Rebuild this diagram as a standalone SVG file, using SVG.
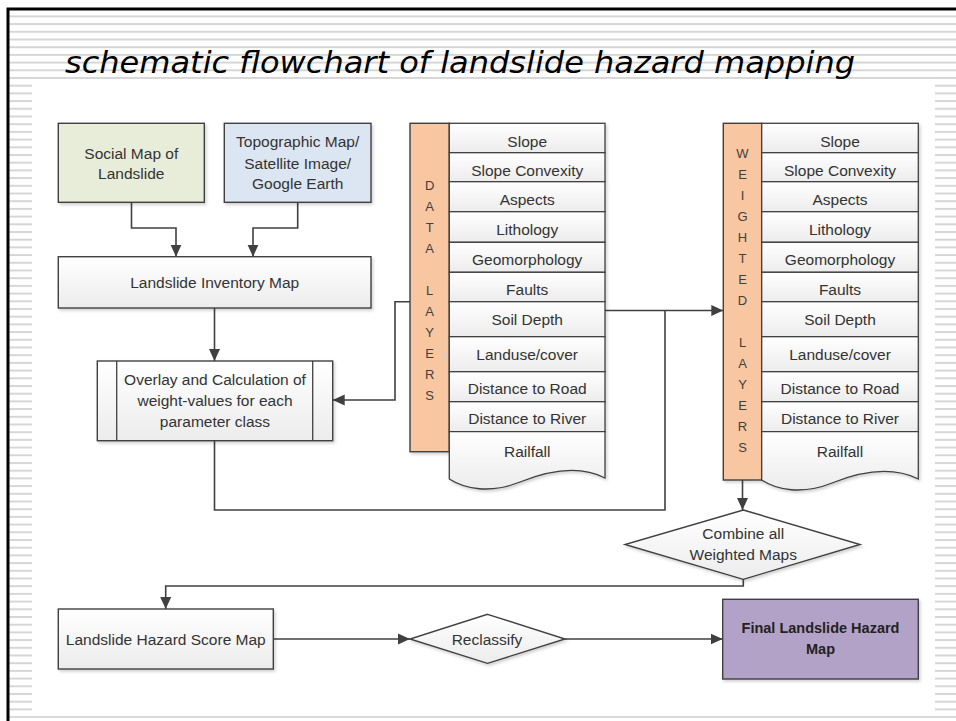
<svg xmlns="http://www.w3.org/2000/svg" width="956" height="721" viewBox="0 0 956 721">
<defs>
<pattern id="stripes" patternUnits="userSpaceOnUse" width="10" height="7.7">
<rect x="0" y="0" width="10" height="2" fill="#D6D6D6"/>
</pattern>
<linearGradient id="lg" x1="0" y1="0" x2="0" y2="1">
<stop offset="0" stop-color="#FFFFFF"/>
<stop offset="1" stop-color="#ECECEC"/>
</linearGradient>
<filter id="sh" x="-10%" y="-10%" width="130%" height="140%">
<feDropShadow dx="1.5" dy="2" stdDeviation="1.5" flood-color="#000" flood-opacity="0.18"/>
</filter>
<marker id="ah" markerUnits="userSpaceOnUse" markerWidth="13" markerHeight="12" refX="12" refY="6" orient="auto">
<path d="M0,0.5 L12,6 L0,11.5 Z" fill="#404040"/>
</marker>
</defs>
<style>
.box{stroke:#404040;stroke-width:1.4;filter:url(#sh)}
.lt{fill:url(#lg)}
.row{fill:url(#lg);stroke:#404040;stroke-width:1.3}
.bar{fill:#F8C6A0;stroke:#404040;stroke-width:1.4;filter:url(#sh)}
.t{font-family:"Liberation Sans",Arial,sans-serif;font-size:15.5px;fill:#333;text-anchor:middle}
.v{font-family:"Liberation Sans",Arial,sans-serif;font-size:13px;fill:#404040;text-anchor:middle}
.b{font-weight:bold;font-size:14.5px;fill:#222}
.c{fill:none;stroke:#404040;stroke-width:1.6}
.ca{fill:none;stroke:#404040;stroke-width:1.6;marker-end:url(#ah)}
</style>

<rect x="0" y="0" width="956" height="721" fill="#FFFFFF"/>
<rect x="9" y="11" width="947" height="700" fill="url(#stripes)"/>
<rect x="32" y="79" width="903" height="632" fill="#FFFFFF"/>
<line x1="9" y1="717" x2="956" y2="717" stroke="#CCCCCC" stroke-width="1.5"/>
<path d="M8,721 V9 H956" fill="none" stroke="#000" stroke-width="3"/>

<text x="65" y="73" font-family="DejaVu Sans,Verdana,sans-serif" font-style="italic" font-size="31" fill="#000" textLength="790" lengthAdjust="spacingAndGlyphs">schematic flowchart of landslide hazard mapping</text>

<g id="connectors">
<path class="ca" d="M131.5,202.3 V228 H176 V256.7"/>
<path class="ca" d="M297.7,202.3 V228 H253 V256.7"/>
<path class="ca" d="M214.5,308 V361"/>
<path class="ca" d="M410,301.7 H395 V400 H332.7"/>
<path class="c" d="M214.5,440.7 V510 H665 V310.5"/>
<path class="ca" d="M605,310.5 H723.3"/>
<path class="ca" d="M742.5,480 V510"/>
<path class="ca" d="M743.3,579.3 V586 H165.7 V609"/>
<path class="ca" d="M273.3,639 H410"/>
<path class="ca" d="M565,639 H722.7"/>
</g>

<g id="social-map">
<rect class="box" x="58.3" y="123.3" width="146" height="79" fill="#E8EDDA"/>
<text class="t" x="131.3" y="158.5">Social Map of</text>
<text class="t" x="131.3" y="178.5">Landslide</text>
</g>

<g id="topographic-map">
<rect class="box" x="224.3" y="123.3" width="146.7" height="79" fill="#DCE6F2"/>
<text class="t" x="297.7" y="147">Topographic Map/</text>
<text class="t" x="297.7" y="168.5">Satellite Image/</text>
<text class="t" x="297.7" y="189">Google Earth</text>
</g>

<g id="inventory-map">
<rect class="box lt" x="58.3" y="256.7" width="312.7" height="51.3"/>
<text class="t" x="214.7" y="288">Landslide Inventory Map</text>
</g>

<g id="overlay">
<rect class="box lt" x="97.3" y="361" width="235.4" height="79.7"/>
<line x1="116.7" y1="361" x2="116.7" y2="440.7" stroke="#404040" stroke-width="1.3"/>
<line x1="312.7" y1="361" x2="312.7" y2="440.7" stroke="#404040" stroke-width="1.3"/>
<text class="t" x="215" y="385">Overlay and Calculation of</text>
<text class="t" x="215" y="405.5">weight-values for each</text>
<text class="t" x="215" y="427">parameter class</text>
</g>

<g id="data-layers">
<rect class="bar" x="410" y="123.3" width="39.3" height="328.4"/>
<text class="v" x="429.7" y="190">D</text>
<text class="v" x="429.7" y="211">A</text>
<text class="v" x="429.7" y="232">T</text>
<text class="v" x="429.7" y="253">A</text>
<text class="v" x="429.7" y="295">L</text>
<text class="v" x="429.7" y="316">A</text>
<text class="v" x="429.7" y="337">Y</text>
<text class="v" x="429.7" y="358">E</text>
<text class="v" x="429.7" y="379">R</text>
<text class="v" x="429.7" y="400">S</text>
<g filter="url(#sh)">
<rect class="row" x="449.3" y="123.3" width="155.7" height="29.4"/>
<rect class="row" x="449.3" y="152.7" width="155.7" height="29"/>
<rect class="row" x="449.3" y="181.7" width="155.7" height="30"/>
<rect class="row" x="449.3" y="211.7" width="155.7" height="30.6"/>
<rect class="row" x="449.3" y="242.3" width="155.7" height="30"/>
<rect class="row" x="449.3" y="272.3" width="155.7" height="29.4"/>
<rect class="row" x="449.3" y="301.7" width="155.7" height="35"/>
<rect class="row" x="449.3" y="336.7" width="155.7" height="35"/>
<rect class="row" x="449.3" y="371.7" width="155.7" height="30"/>
<rect class="row" x="449.3" y="401.7" width="155.7" height="30"/>
<path class="row" d="M449.3,479 C465,489 490,494 520,482 C550,470 580,465 605,478 V431.7 H449.3 Z"/>
</g>
<text class="t" x="527.2" y="146.5">Slope</text>
<text class="t" x="527.2" y="176">Slope Convexity</text>
<text class="t" x="527.2" y="205">Aspects</text>
<text class="t" x="527.2" y="235">Lithology</text>
<text class="t" x="527.2" y="265">Geomorphology</text>
<text class="t" x="527.2" y="294.5">Faults</text>
<text class="t" x="527.2" y="324.5">Soil Depth</text>
<text class="t" x="527.2" y="360">Landuse/cover</text>
<text class="t" x="527.2" y="393.5">Distance to Road</text>
<text class="t" x="527.2" y="423.5">Distance to River</text>
<text class="t" x="527.2" y="456.5">Railfall</text>
</g>

<g id="weighted-layers">
<rect class="bar" x="723.3" y="123.3" width="38.4" height="356.7"/>
<text class="v" x="742.5" y="158">W</text>
<text class="v" x="742.5" y="179">E</text>
<text class="v" x="742.5" y="200">I</text>
<text class="v" x="742.5" y="221">G</text>
<text class="v" x="742.5" y="242">H</text>
<text class="v" x="742.5" y="263">T</text>
<text class="v" x="742.5" y="284">E</text>
<text class="v" x="742.5" y="305">D</text>
<text class="v" x="742.5" y="347">L</text>
<text class="v" x="742.5" y="368">A</text>
<text class="v" x="742.5" y="389">Y</text>
<text class="v" x="742.5" y="410">E</text>
<text class="v" x="742.5" y="431">R</text>
<text class="v" x="742.5" y="452">S</text>
<g filter="url(#sh)">
<rect class="row" x="761.7" y="123.3" width="156.6" height="29.4"/>
<rect class="row" x="761.7" y="152.7" width="156.6" height="29"/>
<rect class="row" x="761.7" y="181.7" width="156.6" height="30"/>
<rect class="row" x="761.7" y="211.7" width="156.6" height="30.6"/>
<rect class="row" x="761.7" y="242.3" width="156.6" height="30"/>
<rect class="row" x="761.7" y="272.3" width="156.6" height="29.4"/>
<rect class="row" x="761.7" y="301.7" width="156.6" height="35"/>
<rect class="row" x="761.7" y="336.7" width="156.6" height="35"/>
<rect class="row" x="761.7" y="371.7" width="156.6" height="30"/>
<rect class="row" x="761.7" y="401.7" width="156.6" height="30"/>
<path class="row" d="M761.7,480 C777,490 802,495 832,483 C862,471 892,466 918.3,479 V431.7 H761.7 Z"/>
</g>
<text class="t" x="840" y="146.5">Slope</text>
<text class="t" x="840" y="176">Slope Convexity</text>
<text class="t" x="840" y="205">Aspects</text>
<text class="t" x="840" y="235">Lithology</text>
<text class="t" x="840" y="265">Geomorphology</text>
<text class="t" x="840" y="294.5">Faults</text>
<text class="t" x="840" y="324.5">Soil Depth</text>
<text class="t" x="840" y="360">Landuse/cover</text>
<text class="t" x="840" y="393.5">Distance to Road</text>
<text class="t" x="840" y="423.5">Distance to River</text>
<text class="t" x="840" y="456.5">Railfall</text>
</g>

<g id="combine">
<polygon class="box lt" points="743.3,510 860,544.5 743.3,579.3 625,544.5"/>
<text class="t" x="743.3" y="538.5">Combine all</text>
<text class="t" x="743.3" y="560">Weighted Maps</text>
</g>

<g id="score-map">
<rect class="box lt" x="58.3" y="609" width="215" height="60"/>
<text class="t" x="165.8" y="644.5">Landslide Hazard Score Map</text>
</g>

<g id="reclassify">
<polygon class="box lt" points="487.5,614.3 565,639 487.5,663.3 410,639"/>
<text class="t" x="487" y="644.5">Reclassify</text>
</g>

<g id="final-map">
<rect class="box" x="722.7" y="599.3" width="195.6" height="79.7" fill="#B3A2C7"/>
<text class="t b" x="820.5" y="632.5">Final Landslide Hazard</text>
<text class="t b" x="820.5" y="654">Map</text>
</g>
</svg>
